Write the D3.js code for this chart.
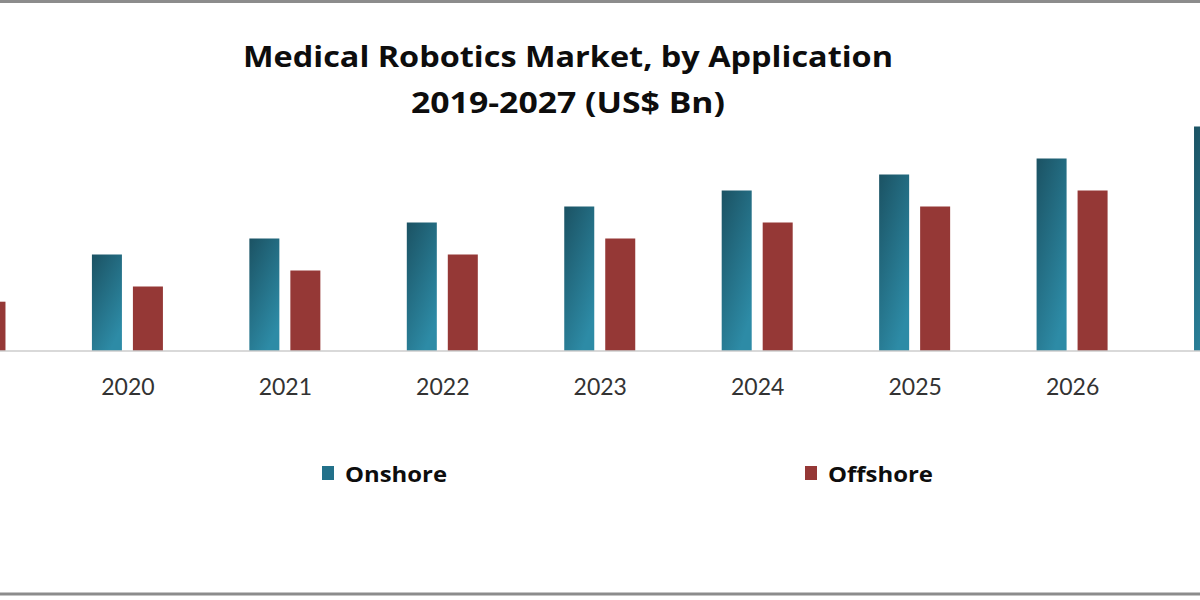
<!DOCTYPE html>
<html>
<head>
<meta charset="utf-8">
<script src="https://cdn.jsdelivr.net/npm/d3@7"></script>
<style>
  body { margin: 0; background: #fff; }
  svg { display: block; font-family: Lato, "Open Sans", sans-serif; }
</style>
</head>
<body>
<div id="chart"></div>
<script>
const years = ['2019', '2020', '2021', '2022', '2023', '2024', '2025', '2026', '2027'];
const series = ['Onshore', 'Offshore'];
// values (relative bar heights)
const onshore = [5, 6, 7, 8, 9, 10, 11, 12, 14];
const offshore = [3.05, 4, 5, 6, 7, 8, 9, 10, 11];

const width = 1200;
const height = 600;
const baseline = 350.5;

const svg = d3.select('#chart')
    .append('svg')
    .attr('width', width)
    .attr('height', height);

const defs = svg.append('defs');
const grad = defs.append('linearGradient')
    .attr('id', 'onshore-grad')
    .attr('x1', '0%').attr('y1', '0%')
    .attr('x2', '60%').attr('y2', '100%');
grad.append('stop').attr('offset', '0%').attr('stop-color', '#1b5263');
grad.append('stop').attr('offset', '100%').attr('stop-color', '#2d8ba6');

const colors = { Onshore: 'url(#onshore-grad)', Offshore: '#953836' };
const swatch = { Onshore: '#23718a', Offshore: '#953836' };

// the picture is a crop, so 2019 and 2027 run past the edges
const x = d3.scaleBand()
    .domain(years)
    .range([-108.25, 1308.75]);

const x1 = d3.scaleBand()
    .domain(series)
    .range([-36, 35])
    .paddingInner(0.268);

const y = d3.scaleLinear()
    .domain([0, 14])
    .range([baseline, 126.5]);

// border lines
svg.append('rect').attr('x', 0).attr('y', 0).attr('width', width).attr('height', 3).attr('fill', '#8c8c8c');
svg.append('rect').attr('x', 0).attr('y', 592.5).attr('width', width).attr('height', 3).attr('fill', '#8c8c8c');

const titleLines = [
    { text: 'Medical Robotics Market, by Application', y: 67, len: 650 },
    { text: '2019-2027 (US$ Bn)', y: 113, len: 314 }
];

svg.selectAll('text.title')
    .data(titleLines)
    .enter()
    .append('text')
    .attr('class', 'title')
    .attr('x', 568)
    .attr('y', d => d.y)
    .attr('text-anchor', 'middle')
    .attr('font-family', '"Open Sans", sans-serif')
    .attr('font-size', 29)
    .attr('font-weight', 'bold')
    .attr('fill', '#0d0d0d')
    .attr('textLength', d => d.len)
    .attr('lengthAdjust', 'spacingAndGlyphs')
    .text(d => d.text);

const rows = years.map((yr, i) => ({ year: yr, Onshore: onshore[i], Offshore: offshore[i] }));

const groups = svg.selectAll('g.year')
    .data(rows)
    .enter()
    .append('g')
    .attr('class', 'year')
    .attr('transform', d => `translate(${x(d.year) + x.bandwidth() / 2},0)`);

groups.selectAll('rect')
    .data(d => series.map(s => ({ key: s, value: d[s] })))
    .enter()
    .append('rect')
    .attr('x', d => x1(d.key))
    .attr('width', x1.bandwidth())
    .attr('y', d => y(d.value))
    .attr('height', d => baseline - y(d.value))
    .attr('fill', d => colors[d.key]);

const axis = svg.append('g')
    .attr('transform', `translate(0,${baseline})`)
    .call(d3.axisBottom(x).tickSize(0).tickPadding(28));

axis.select('.domain').attr('stroke', '#b3b3b3');
axis.selectAll('text')
    .attr('font-family', 'Lato, sans-serif')
    .attr('font-size', 23)
    .attr('fill', '#333');

const legendPos = [322, 805];
const legendLen = [102, 105];
const legend = svg.selectAll('g.legend')
    .data(series)
    .enter()
    .append('g')
    .attr('class', 'legend')
    .attr('transform', (d, i) => `translate(${legendPos[i]},466)`);

legend.append('rect')
    .attr('width', 12)
    .attr('height', 14)
    .attr('fill', d => swatch[d]);

legend.append('text')
    .attr('x', 23)
    .attr('y', 16)
    .attr('font-family', '"Open Sans", sans-serif')
    .attr('font-size', 22)
    .attr('font-weight', 'bold')
    .attr('fill', '#0d0d0d')
    .attr('textLength', (d, i) => legendLen[i])
    .attr('lengthAdjust', 'spacingAndGlyphs')
    .text(d => d);
</script>
</body>
</html>
